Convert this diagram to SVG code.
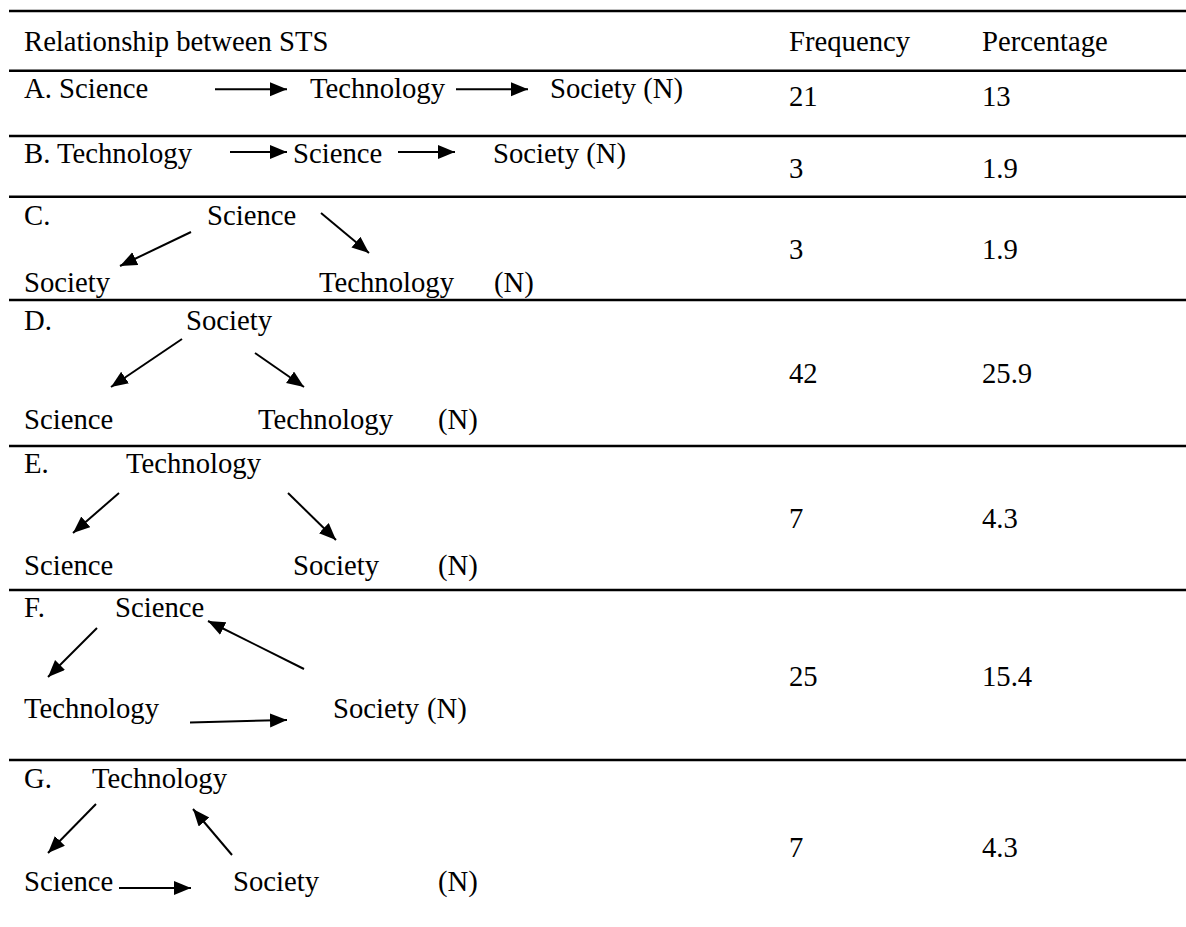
<svg xmlns="http://www.w3.org/2000/svg" width="1186" height="927" viewBox="0 0 1186 927">
<style>
text{font-family:"Liberation Serif","Times New Roman",serif;font-size:28.7px;fill:#000}
.rule{stroke:#000;stroke-width:2.5}
.arr{stroke:#000;stroke-width:2;fill:none;marker-end:url(#ah)}
</style>
<defs>
<marker id="ah" markerUnits="userSpaceOnUse" markerWidth="18" markerHeight="15" refX="17" refY="7" orient="auto">
<path d="M0,0 L17,7 L0,14 z" fill="#000"/>
</marker>
</defs>
<rect width="1186" height="927" fill="#fff"/>
<g id="rules">
<line class="rule" x1="9" y1="11" x2="1186" y2="11"/>
<line class="rule" x1="9" y1="70.7" x2="1186" y2="70.7"/>
<line class="rule" x1="9" y1="136" x2="1186" y2="136"/>
<line class="rule" x1="9" y1="196.7" x2="1186" y2="196.7"/>
<line class="rule" x1="9" y1="300" x2="1186" y2="300"/>
<line class="rule" x1="9" y1="446" x2="1186" y2="446"/>
<line class="rule" x1="9" y1="590" x2="1186" y2="590"/>
<line class="rule" x1="9" y1="760" x2="1186" y2="760"/>
</g>
<g id="header">
<text x="24" y="51">Relationship between STS</text>
<text x="789" y="51">Frequency</text>
<text x="982" y="51">Percentage</text>
</g>
<g id="row-A">
<text x="24" y="98">A. Science</text>
<text x="310" y="98">Technology</text>
<text x="550" y="98">Society (N)</text>
<text x="789" y="106">21</text>
<text x="982" y="106">13</text>
</g>
<g id="row-B">
<text x="24" y="163">B. Technology</text>
<text x="293" y="163">Science</text>
<text x="493" y="163">Society (N)</text>
<text x="789" y="178">3</text>
<text x="982" y="178">1.9</text>
</g>
<g id="row-C">
<text x="24" y="225">C.</text>
<text x="207" y="225">Science</text>
<text x="24" y="292">Society</text>
<text x="319" y="292">Technology</text>
<text x="494" y="292">(N)</text>
<text x="789" y="259">3</text>
<text x="982" y="259">1.9</text>
</g>
<g id="row-D">
<text x="24" y="330">D.</text>
<text x="186" y="330">Society</text>
<text x="24" y="429">Science</text>
<text x="258" y="429">Technology</text>
<text x="438" y="429">(N)</text>
<text x="789" y="383">42</text>
<text x="982" y="383">25.9</text>
</g>
<g id="row-E">
<text x="24" y="473">E.</text>
<text x="126" y="473">Technology</text>
<text x="24" y="575">Science</text>
<text x="293" y="575">Society</text>
<text x="438" y="575">(N)</text>
<text x="789" y="528">7</text>
<text x="982" y="528">4.3</text>
</g>
<g id="row-F">
<text x="24" y="617">F.</text>
<text x="115" y="617">Science</text>
<text x="24" y="718">Technology</text>
<text x="333" y="718">Society</text>
<text x="427" y="718">(N)</text>
<text x="789" y="686">25</text>
<text x="982" y="686">15.4</text>
</g>
<g id="row-G">
<text x="24" y="788">G.</text>
<text x="92" y="788">Technology</text>
<text x="24" y="891">Science</text>
<text x="233" y="891">Society</text>
<text x="438" y="891">(N)</text>
<text x="789" y="857">7</text>
<text x="982" y="857">4.3</text>
</g>
<g id="connectors">
<line class="arr" x1="215" y1="89.3" x2="287" y2="89.3"/>
<line class="arr" x1="456" y1="89.3" x2="528" y2="89.3"/>
<line class="arr" x1="230" y1="152" x2="287" y2="152"/>
<line class="arr" x1="398" y1="152" x2="455" y2="152"/>
<line class="arr" x1="191" y1="232" x2="120" y2="266"/>
<line class="arr" x1="321" y1="213" x2="369" y2="253"/>
<line class="arr" x1="182" y1="339" x2="111" y2="387"/>
<line class="arr" x1="255" y1="353" x2="304" y2="387"/>
<line class="arr" x1="119" y1="493" x2="73" y2="533"/>
<line class="arr" x1="288" y1="493" x2="336" y2="540"/>
<line class="arr" x1="97" y1="628" x2="48" y2="677"/>
<line class="arr" x1="304" y1="669" x2="208" y2="621"/>
<line class="arr" x1="190" y1="722.5" x2="287" y2="720"/>
<line class="arr" x1="96" y1="804" x2="48" y2="853"/>
<line class="arr" x1="232" y1="855" x2="193" y2="809"/>
<line class="arr" x1="119" y1="888" x2="191" y2="888"/>
</g>
</svg>
